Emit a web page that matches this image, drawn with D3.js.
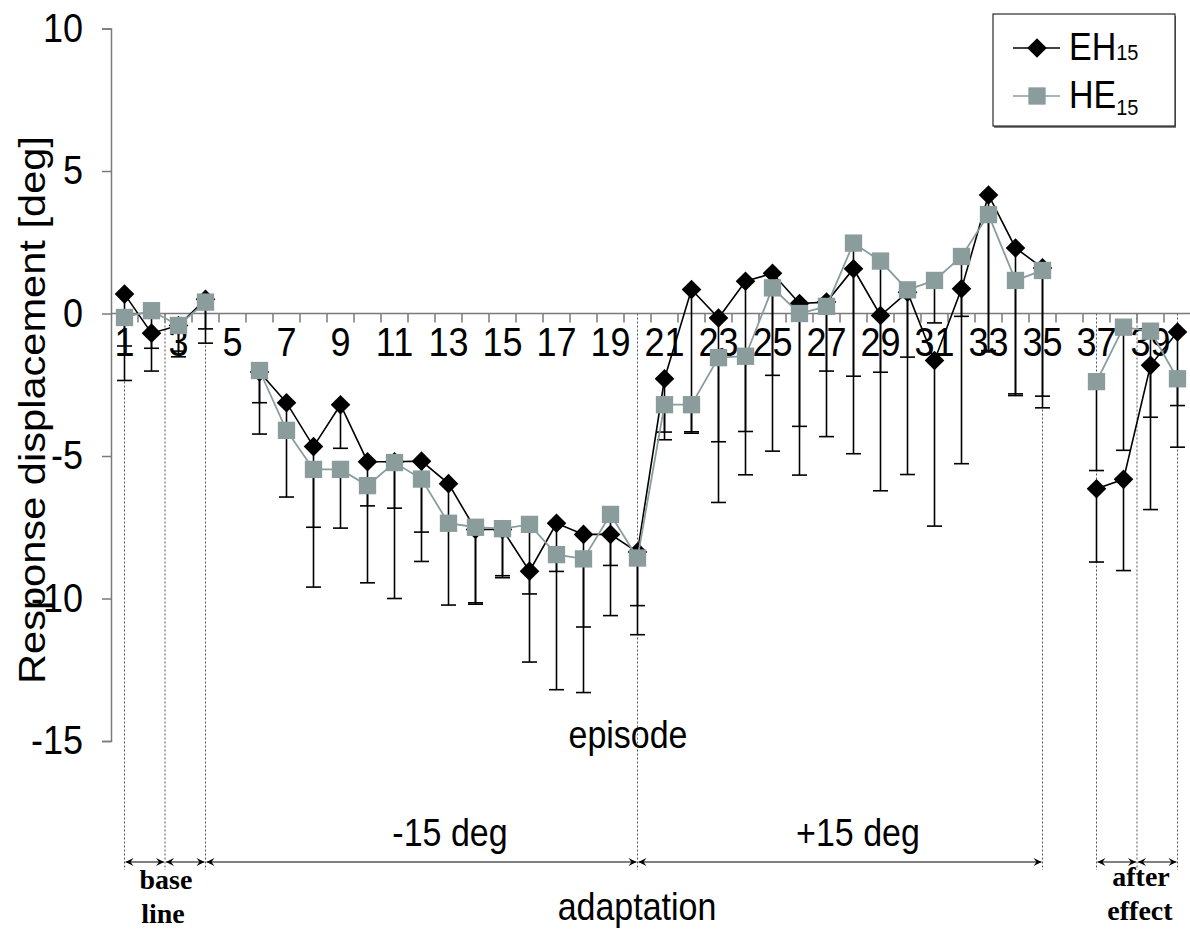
<!DOCTYPE html>
<html>
<head>
<meta charset="utf-8">
<script src="https://cdn.jsdelivr.net/npm/d3@7"></script>
<style>
  html, body { margin: 0; padding: 0; background: #fff; }
  svg { display: block; }
  text { font-family: "Liberation Sans", Arial, sans-serif; fill: #000; }
  .serif { font-family: "Liberation Serif", "Times New Roman", serif; font-weight: bold; }
</style>
</head>
<body>
<svg id="chart" width="1190" height="933"></svg>
<script>
// Episodes 1..40 (5 and 36 have no measurement)
const episodes = d3.range(1, 41);
const tickEpisodes = d3.range(1, 40, 2);
const yTicks = [10, 5, 0, -5, -10, -15];

// Mean response displacement [deg]
const ehMean = [0.68, -0.69, -0.42, 0.5, null, -2.05, -3.13, -4.67, -3.2, -5.2,
  -5.2, -5.18, -5.97, -7.58, -7.58, -9.04, -7.36, -7.75, -7.75, -8.37,
  -2.29, 0.84, -0.16, 1.13, 1.41, 0.35, 0.4, 1.57, -0.07, 0.75,
  -1.65, 0.87, 4.16, 2.3, 1.6, null, -6.15, -5.82, -1.82, -0.65];
const heMean = [-0.14, 0.1, -0.42, 0.4, null, -2.0, -4.1, -5.47, -5.47, -6.04,
  -5.23, -5.81, -7.36, -7.5, -7.55, -7.4, -8.46, -8.61, -7.05, -8.58,
  -3.2, -3.2, -1.55, -1.5, 0.9, 0.0, 0.25, 2.47, 1.84, 0.83,
  1.16, 2.0, 3.47, 1.16, 1.51, null, -2.39, -0.48, -0.62, -2.29];

// Standard deviation (drawn below each point)
const ehSd = [3.03, 1.33, 0.9, 1.54, null, 2.18, 3.31, 2.83, 1.53, 1.55,
  4.8, 2.49, 4.26, 2.57, 1.62, 3.19, 5.84, 3.25, 2.85, 2.9,
  2.14, 5.04, 6.47, 6.79, 6.24, 6.02, 4.72, 6.49, 6.15, 6.4,
  5.81, 6.14, 5.46, 5.12, 4.91, null, 2.57, 3.2, 5.06, 4.04];
const heSd = [1.0, 1.32, 1.1, 0.94, null, 1.13, 0.2, 4.13, 2.06, 3.41,
  1.6, 2.89, 0.2, 2.7, 1.72, 2.44, 0.59, 4.69, 1.79, 1.67,
  0.96, 0.95, 2.95, 2.64, 3.07, 3.96, 2.27, 4.67, 3.9, 2.36,
  1.49, 2.1, 4.82, 4.04, 4.41, null, 3.12, 4.32, 3.02, 0.94];

// Phase boundaries (episode positions) and bracketed spans
const phaseBounds = [1, 2.5, 4, 20, 35, 37, 38.5, 40];
const phaseSpans = [[1, 2.5], [2.5, 4], [4, 20], [20, 35], [37, 38.5], [38.5, 40]];

const seriesNames = ["EH", "HE"];
const heColor = "#8a9c9c";
const stretch = 1.14; // text glyphs are drawn slightly tall

const svg = d3.select("#chart");
const x = d3.scaleLinear().domain([0.5, 40.5]).range([111, 1191]);
const y = d3.scaleLinear().domain([-15, 10]).range([741, 28.5]);

function label(g, px, py, str, size, anchor) {
  return g.append("text")
    .attr("transform", `translate(${px},${py}) scale(1,${stretch})`)
    .attr("text-anchor", anchor || "middle").attr("font-size", size).text(str);
}

// Dotted phase separators
svg.append("g").selectAll("line").data(phaseBounds).join("line")
  .attr("x1", d => x(d)).attr("x2", d => x(d))
  .attr("y1", y(0)).attr("y2", 870)
  .attr("stroke", "#555").attr("stroke-width", 1)
  .attr("stroke-dasharray", "2,2");

// Y axis (line and ticks from d3, labels drawn below)
const yAxis = svg.append("g").attr("transform", `translate(${x(0.5)},0)`)
  .call(d3.axisLeft(y).tickValues(yTicks).tickSize(9).tickFormat(""));
yAxis.select(".domain").attr("stroke", "#7a7a7a").attr("stroke-width", 1.5);
yAxis.selectAll(".tick line").attr("stroke", "#7a7a7a").attr("stroke-width", 1.5);
const yLab = svg.append("g");
yTicks.forEach(t => label(yLab, 83, y(t) + 13, String(t), 36, "end"));

// Zero line with category ticks
svg.append("line").attr("x1", x(0.5)).attr("x2", 1190)
  .attr("y1", y(0)).attr("y2", y(0))
  .attr("stroke", "#7a7a7a").attr("stroke-width", 1.5);
svg.append("g").selectAll("line").data(d3.range(1.5, 40.5, 1)).join("line")
  .attr("x1", d => x(d)).attr("x2", d => x(d))
  .attr("y1", y(0)).attr("y2", y(0) + 9)
  .attr("stroke", "#7a7a7a").attr("stroke-width", 1.5);

// Episode numbers
const xLab = svg.append("g");
tickEpisodes.forEach(e => label(xLab, x(e), y(0) + 42, String(e), 36));

// Error bars (lower SD)
function errorBars(mean, sd) {
  const pts = episodes.map((e, i) => ({ e, m: mean[i], s: sd[i] }))
    .filter(d => d.m != null && d.s != null);
  const g = svg.append("g").attr("stroke", "#000").attr("stroke-width", 1.6);
  g.selectAll("line.v").data(pts).join("line").attr("class", "v")
    .attr("x1", d => x(d.e)).attr("x2", d => x(d.e))
    .attr("y1", d => y(d.m)).attr("y2", d => y(d.m - d.s));
  g.selectAll("line.c").data(pts).join("line").attr("class", "c")
    .attr("x1", d => x(d.e) - 7.5).attr("x2", d => x(d.e) + 7.5)
    .attr("y1", d => y(d.m - d.s)).attr("y2", d => y(d.m - d.s));
}
errorBars(ehMean, ehSd);
errorBars(heMean, heSd);

const line = d3.line().defined(d => d.m != null).x(d => x(d.e)).y(d => y(d.m));
const ehPts = episodes.map((e, i) => ({ e, m: ehMean[i] }));
const hePts = episodes.map((e, i) => ({ e, m: heMean[i] }));

const diamond = d3.symbol().type(d3.symbolDiamond2).size(245);
const square = d3.symbol().type(d3.symbolSquare).size(300);

// EH series
svg.append("path").datum(ehPts).attr("d", line)
  .attr("fill", "none").attr("stroke", "#000").attr("stroke-width", 1.6);
svg.append("g").selectAll("path").data(ehPts.filter(d => d.m != null)).join("path")
  .attr("transform", d => `translate(${x(d.e)},${y(d.m)})`)
  .attr("d", diamond).attr("fill", "#000");

// HE series
svg.append("path").datum(hePts).attr("d", line)
  .attr("fill", "none").attr("stroke", heColor).attr("stroke-width", 1.8);
svg.append("g").selectAll("path").data(hePts.filter(d => d.m != null)).join("path")
  .attr("transform", d => `translate(${x(d.e)},${y(d.m)})`)
  .attr("d", square).attr("fill", heColor);

// Axis titles
svg.append("text").attr("transform", `translate(45,410) rotate(-90)`)
  .attr("text-anchor", "middle").attr("font-size", 36)
  .attr("textLength", 548).attr("lengthAdjust", "spacingAndGlyphs")
  .text("Response displacement [deg]");
label(svg, 628, 748, "episode", 34);

// Phase brackets with arrowheads
const defs = svg.append("defs");
defs.append("marker").attr("id", "arr").attr("viewBox", "0 0 10 10")
  .attr("refX", 9).attr("refY", 5).attr("markerWidth", 10).attr("markerHeight", 10)
  .attr("markerUnits", "userSpaceOnUse").attr("orient", "auto-start-reverse")
  .append("path").attr("d", "M1,1 L9,5 L1,9 L4,5 Z").attr("fill", "#000");
svg.append("g").selectAll("line").data(phaseSpans).join("line")
  .attr("x1", d => x(d[0]) + 1).attr("x2", d => x(d[1]) - 1)
  .attr("y1", 862).attr("y2", 862)
  .attr("stroke", "#000").attr("stroke-width", 1.2)
  .attr("marker-start", "url(#arr)").attr("marker-end", "url(#arr)");

// Phase labels
label(svg, 450, 846, "-15 deg", 34);
label(svg, 858, 846, "+15 deg", 34);
label(svg, 637, 920, "adaptation", 34);
const serifLabels = [
  { t: "base", x: 166, y: 889 }, { t: "line", x: 163, y: 923 },
  { t: "after", x: 1141, y: 886 }, { t: "effect", x: 1140, y: 920 }
];
svg.append("g").selectAll("text").data(serifLabels).join("text")
  .attr("class", "serif").attr("x", d => d.x).attr("y", d => d.y)
  .attr("text-anchor", "middle").attr("font-size", 28).text(d => d.t);

// Legend
const lg = svg.append("g");
lg.append("rect").attr("x", 994).attr("y", 16).attr("width", 182).attr("height", 112)
  .attr("fill", "#808080");
lg.append("rect").attr("x", 993).attr("y", 14).attr("width", 182).attr("height", 112)
  .attr("fill", "#fff").attr("stroke", "#000").attr("stroke-width", 1);
const legendRows = [
  { name: seriesNames[0], cy: 48, color: "#000", sym: diamond, subDy: 0 },
  { name: seriesNames[1], cy: 96, color: heColor, sym: square, subDy: 6 }
];
legendRows.forEach(r => {
  lg.append("line").attr("x1", 1013).attr("x2", 1060).attr("y1", r.cy).attr("y2", r.cy)
    .attr("stroke", r.color).attr("stroke-width", 1.6);
  lg.append("path").attr("transform", `translate(1037,${r.cy})`)
    .attr("d", r.sym).attr("fill", r.color);
  const t = lg.append("text")
    .attr("transform", `translate(1069,${r.cy + 12}) scale(1,${stretch})`)
    .attr("font-size", 34);
  t.append("tspan").text(r.name);
  t.append("tspan").attr("font-size", 20).attr("dy", r.subDy).text("15");
});
</script>
</body>
</html>
